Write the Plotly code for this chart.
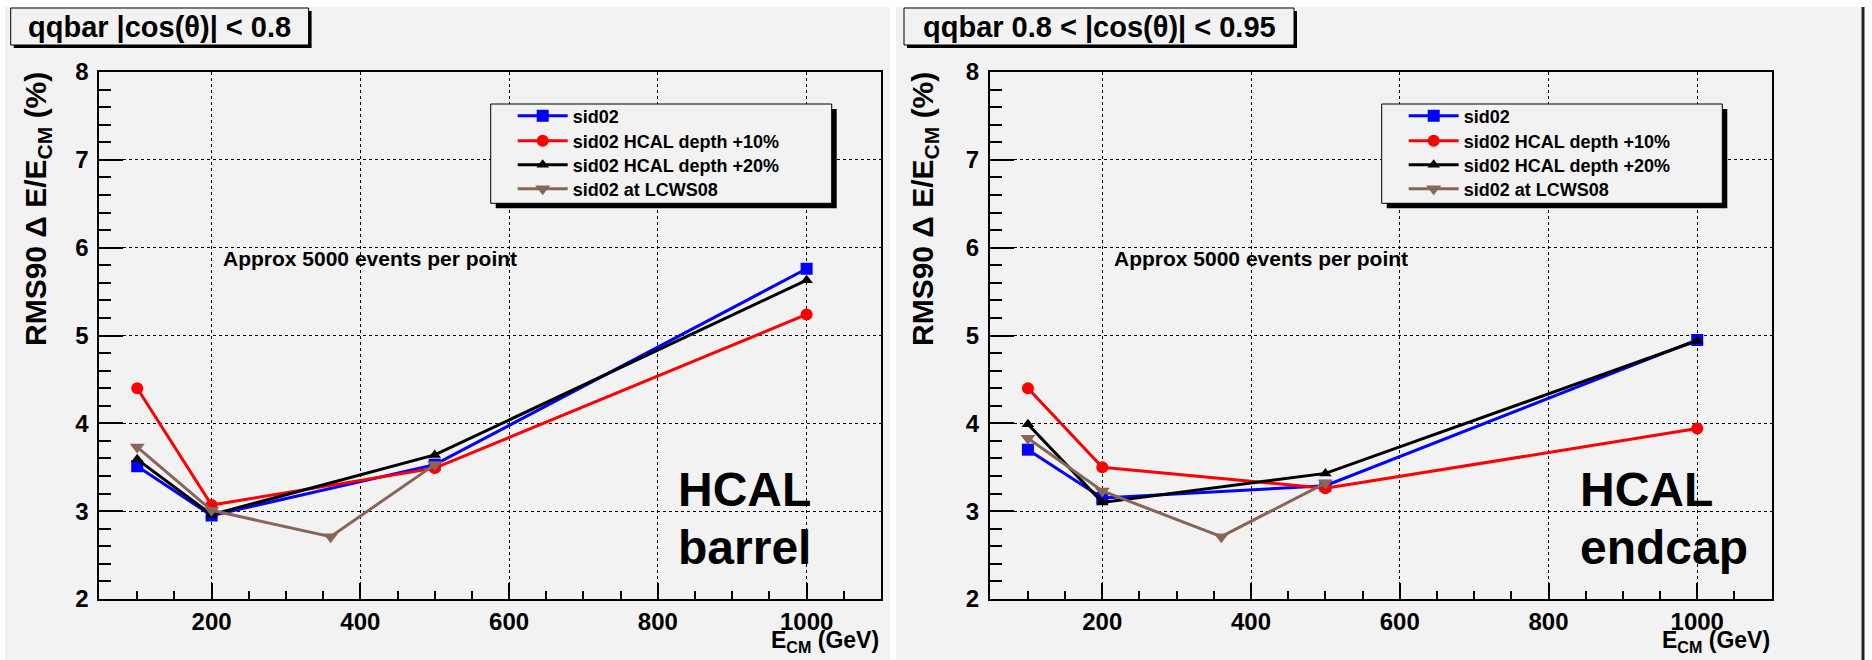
import plotly.graph_objects as go

W, H = 1872, 660

# ---------------- data ----------------
energies = [100, 200, 500, 1000]
energies_lcws = [100, 200, 360, 500]

barrel_sid02 = [3.51, 2.95, 3.53, 5.76]
barrel_hcal10 = [4.40, 3.07, 3.49, 5.24]
barrel_hcal20 = [3.59, 2.96, 3.64, 5.63]
barrel_lcws08 = [3.73, 3.01, 2.71, 3.53]

endcap_sid02 = [3.70, 3.15, 3.29, 4.95]
endcap_hcal10 = [4.40, 3.50, 3.26, 3.94]
endcap_hcal20 = [3.99, 3.10, 3.43, 4.94]
endcap_lcws08 = [3.83, 3.23, 2.71, 3.32]

series_names = ["sid02", "sid02 HCAL depth +10%", "sid02 HCAL depth +20%", "sid02 at LCWS08"]
series_colors = ["#0000ff", "#ff0000", "#000000", "#876656"]
series_symbols = ["square", "circle", "triangle-up", "triangle-down"]
series_sizes = [12, 12, 11, 13]

x_ticks = [200, 400, 600, 800, 1000]
y_ticks = [2, 3, 4, 5, 6, 7, 8]

panel_titles = ["qqbar |cos(\u03b8)| < 0.8", "qqbar 0.8 < |cos(\u03b8)| < 0.95"]
panel_labels = [["HCAL", "barrel"], ["HCAL", "endcap"]]
note_text = "Approx 5000 events per point"

# ---------------- helpers ----------------
def px(x):
    return x / W

def py(y):
    return 1 - y / H

BOLD = "Liberation Sans, Arial, Helvetica, sans-serif"
GRAY = "#f2f2f2"

plot_x = [(99.3, 881.0), (990.0, 1771.6)]
plot_top, plot_bot = 72.0, 599.0

title_boxes = [(10.7, 308.6), (904.0, 1294.0)]
legend_boxes = [(490.7, 831.7), (1381.7, 1722.3)]
legend_rows = [116, 141, 165, 189]
hcal_x = [676, 1578]
note_x = [221, 1112]
ylab_x = [37, 924]

fig = go.Figure()

panels = [
    (energies, energies_lcws, [barrel_sid02, barrel_hcal10, barrel_hcal20, barrel_lcws08]),
    (energies, energies_lcws, [endcap_sid02, endcap_hcal10, endcap_hcal20, endcap_lcws08]),
]

legend_layouts = {}
for p, (xe, xl, ys) in enumerate(panels):
    xa = "x" if p == 0 else "x2"
    ya = "y" if p == 0 else "y2"
    for i, yv in enumerate(ys):
        xv = xl if i == 3 else xe
        k = p * 4 + i + 1
        leg = "legend" if k == 1 else f"legend{k}"
        fig.add_trace(go.Scatter(
            x=xv, y=yv, mode="lines+markers", name=series_names[i],
            line=dict(color=series_colors[i], width=3),
            marker=dict(symbol=series_symbols[i], size=series_sizes[i], color=series_colors[i]),
            xaxis=xa, yaxis=ya, legend=leg, showlegend=True,
        ))
        legend_layouts[leg] = dict(
            x=px(legend_boxes[p][0] + 22), y=py(legend_rows[i]),
            xanchor="left", yanchor="middle",
            bgcolor="rgba(0,0,0,0)", borderwidth=0,
            font=dict(family=BOLD, size=18, color="black", weight="bold"),
            itemwidth=50, itemclick=False, itemdoubleclick=False,
        )

def xaxis_cfg(p):
    l, r = plot_x[p]
    return dict(
        domain=[px(l), px(r)], range=[49, 1100], anchor="y" if p == 0 else "y2",
        tickmode="array", tickvals=x_ticks, ticks="inside", ticklen=16, tickwidth=1.5,
        tickcolor="black", minor=dict(ticks="inside", ticklen=8, dtick=50, tick0=0,
                                      tickcolor="black", tickwidth=1.5, showgrid=False),
        showgrid=True, gridcolor="black", griddash="dot", gridwidth=1,
        showline=True, mirror=True, linecolor="black", linewidth=2,
        tickfont=dict(family=BOLD, size=24, color="black", weight="bold"),
        zeroline=False, automargin=False, fixedrange=True,
    )

def yaxis_cfg(p):
    return dict(
        domain=[py(plot_bot), py(plot_top)], range=[2, 8], anchor="x" if p == 0 else "x2",
        tickmode="array", tickvals=y_ticks, ticks="inside", ticklen=24, tickwidth=1.5,
        tickcolor="black", minor=dict(ticks="inside", ticklen=12, dtick=0.2, tick0=0,
                                      tickcolor="black", tickwidth=1.5, showgrid=False),
        showgrid=True, gridcolor="black", griddash="dot", gridwidth=1,
        showline=True, mirror=True, linecolor="black", linewidth=2,
        tickfont=dict(family=BOLD, size=24, color="black", weight="bold"),
        ticklabelstandoff=4,
        zeroline=False, automargin=False, fixedrange=True,
    )

shapes = []
annotations = []

for (l, r) in [(5, 890), (896, 1861)]:
    shapes.append(dict(type="rect", xref="paper", yref="paper", x0=px(l), x1=px(r),
                       y0=0, y1=py(7), fillcolor=GRAY, line=dict(width=0), layer="below"))
shapes.append(dict(type="line", xref="paper", yref="paper", x0=px(1863), x1=px(1863),
                   y0=0, y1=py(7), line=dict(color="#222222", width=3), layer="below"))

for p in range(2):
    l, r = title_boxes[p]
    shapes.append(dict(type="rect", xref="paper", yref="paper", x0=px(l + 3), x1=px(r + 3),
                       y0=py(45 + 3), y1=py(8 + 3), fillcolor="black", line=dict(width=0), layer="above"))
    shapes.append(dict(type="rect", xref="paper", yref="paper", x0=px(l), x1=px(r),
                       y0=py(45), y1=py(8), fillcolor=GRAY, line=dict(color="black", width=1), layer="above"))
    annotations.append(dict(text=panel_titles[p], xref="paper", yref="paper",
                            x=px((l + r) / 2), y=py(26.5), xanchor="center", yanchor="middle",
                            showarrow=False,
                            font=dict(family=BOLD, size=29, color="black", weight="bold")))
    l, r = legend_boxes[p]
    shapes.append(dict(type="rect", xref="paper", yref="paper", x0=px(l + 5), x1=px(r + 5),
                       y0=py(203.3 + 5), y1=py(104 + 5), fillcolor="black", line=dict(width=0), layer="above"))
    shapes.append(dict(type="rect", xref="paper", yref="paper", x0=px(l), x1=px(r),
                       y0=py(203.3), y1=py(104), fillcolor=GRAY, line=dict(color="black", width=1), layer="above"))
    annotations.append(dict(text=note_text, xref="paper", yref="paper", x=px(note_x[p]), y=py(259),
                            xanchor="left", yanchor="middle", showarrow=False,
                            font=dict(family=BOLD, size=21, color="black", weight="bold")))
    annotations.append(dict(text=panel_labels[p][0], xref="paper", yref="paper", x=px(hcal_x[p]), y=py(489),
                            xanchor="left", yanchor="middle", showarrow=False,
                            font=dict(family=BOLD, size=48, color="black", weight="bold")))
    annotations.append(dict(text=panel_labels[p][1], xref="paper", yref="paper", x=px(hcal_x[p]), y=py(547),
                            xanchor="left", yanchor="middle", showarrow=False,
                            font=dict(family=BOLD, size=48, color="black", weight="bold")))
    annotations.append(dict(text="E<sub>CM</sub> (GeV)", xref="paper", yref="paper",
                            x=px(plot_x[p][1]), y=py(658), xanchor="right", yanchor="bottom",
                            showarrow=False, font=dict(family=BOLD, size=23, color="black", weight="bold")))
    annotations.append(dict(text="RMS90 \u0394 E/E<sub>CM</sub> (%)", xref="paper", yref="paper",
                            x=px(ylab_x[p]), y=py(plot_top - 2), xanchor="center", yanchor="top",
                            textangle=-90, showarrow=False,
                            font=dict(family=BOLD, size=30, color="black", weight="bold")))

fig.update_layout(
    width=W, height=H, margin=dict(l=0, r=0, t=0, b=0),
    paper_bgcolor="white", plot_bgcolor="rgba(0,0,0,0)",
    xaxis=xaxis_cfg(0), yaxis=yaxis_cfg(0), xaxis2=xaxis_cfg(1), yaxis2=yaxis_cfg(1),
    shapes=shapes, annotations=annotations,
    **legend_layouts,
)

fig.write_html("out.html")
